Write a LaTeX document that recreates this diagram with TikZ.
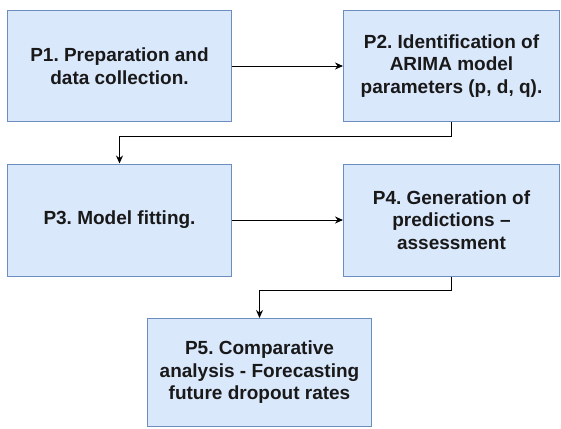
\documentclass[tikz,border=0pt]{standalone}
\usepackage{fontspec}
\setmainfont{Liberation Sans}
\usetikzlibrary{arrows.meta}
\definecolor{boxfill}{HTML}{DAE8FC}
\definecolor{boxline}{HTML}{6C8EBF}
\frenchspacing
\begin{document}
\begin{tikzpicture}[x=1pt, y=-1pt,
    stage/.style={draw=boxline, fill=boxfill, line width=1pt, align=center,
      font=\bfseries\fontsize{19}{22.5}\selectfont, text=black!90, inner sep=0pt},
    flow/.style={-{Stealth[length=8pt, width=7pt]}, line width=1pt}]
    \useasboundingbox (0, 0) rectangle (561, 428);

    \node[stage, minimum width=224pt, minimum height=111pt] (p1) at (119.5, 66) {P1. Preparation and\\data collection.};
    \node[stage, minimum width=216pt, minimum height=111pt] (p2) at (451.5, 66) {P2. Identification of\\ARIMA model\\parameters (p, d, q).};
    \node[stage, minimum width=224pt, minimum height=112pt] (p3) at (119.5, 220) {P3. Model fitting.};
    \node[stage, minimum width=216pt, minimum height=112pt] (p4) at (451.5, 220) {P4. Generation of\\predictions --\\assessment};
    \node[stage, minimum width=224pt, minimum height=108pt] (p5) at (259.5, 372.5) {P5. Comparative\\analysis - Forecasting\\future dropout rates};

    % straight links
    \draw[flow] (p1) -- (p2);
    \draw[flow] (p3) -- (p4);

    % elbow links down to the next row
    \draw[flow] (p2.south) -- ++(0, 14) -| (p3.north);
    \draw[flow] (p4.south) -- ++(0, 14) -| (p5.north);
\end{tikzpicture}
\end{document}
